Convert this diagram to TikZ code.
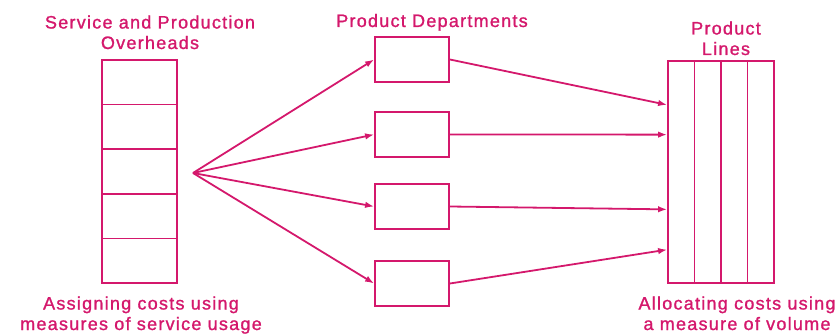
\documentclass[tikz,border=0pt]{standalone}
\usepackage{fontspec}
\setmainfont{Liberation Sans}[LetterSpace=7,FakeBold=1.2]
\usetikzlibrary{arrows.meta,calc}
\definecolor{ink}{RGB}{212,24,108}
\newcommand{\capfont}{\fontsize{18}{20.5}\selectfont}
\begin{document}
\begin{tikzpicture}[x=1pt,y=-1pt,
  cell/.style={draw=ink,line width=1.8pt,inner sep=0pt,minimum width=75pt,minimum height=44.6pt},
  dept/.style={cell,minimum width=74pt,minimum height=45pt},
  prodline/.style={cell,minimum width=26.5pt,minimum height=222pt},
  caption/.style={text=ink,align=center,inner sep=0pt,anchor=base,font=\capfont},
  flow/.style={draw=ink,line width=1.8pt,-{Latex[length=9pt,width=6.5pt]}}]
\useasboundingbox (0,0) rectangle (840,334);
% overheads stack
\foreach \i/\y in {1/82.3,2/126.9,3/171.5,4/216.1,5/260.7}
  \node[cell] (ovh\i) at (139.5,\y) {};
\coordinate (fan) at (193,173);
% departments
\foreach \i/\y in {1/59.5,2/134.5,3/206.5,4/283.5}
  \node[dept] (dept\i) at (412,\y) {};
% product lines
\foreach \i/\x in {1/681.25,2/707.75,3/734.25,4/760.75}
  \node[prodline] (line\i) at (\x,172) {};
% labels
\node[caption] (ovhtitle)  at (150,49)  {Service and Production\\Overheads};
\node[caption] (depttitle) at (432,27)  {Product Departments};
\node[caption] (linetitle) at (726,55)  {Product\\Lines};
\node[caption] (assign)    at (141,330) {Assigning costs using\\measures of service usage};
\node[caption] (allocate)  at (737,330) {Allocating costs using\\a measure of volume};
% arrows
\foreach \i in {1,...,4}
  \draw[flow] (fan) -- (dept\i.west);
\foreach \i/\f in {1/0.2,2/0.333,3/0.667,4/0.847}
  \draw[flow] (dept\i.east) -- ($(line1.north west)!\f!(line1.south west)$);
\end{tikzpicture}
\end{document}
